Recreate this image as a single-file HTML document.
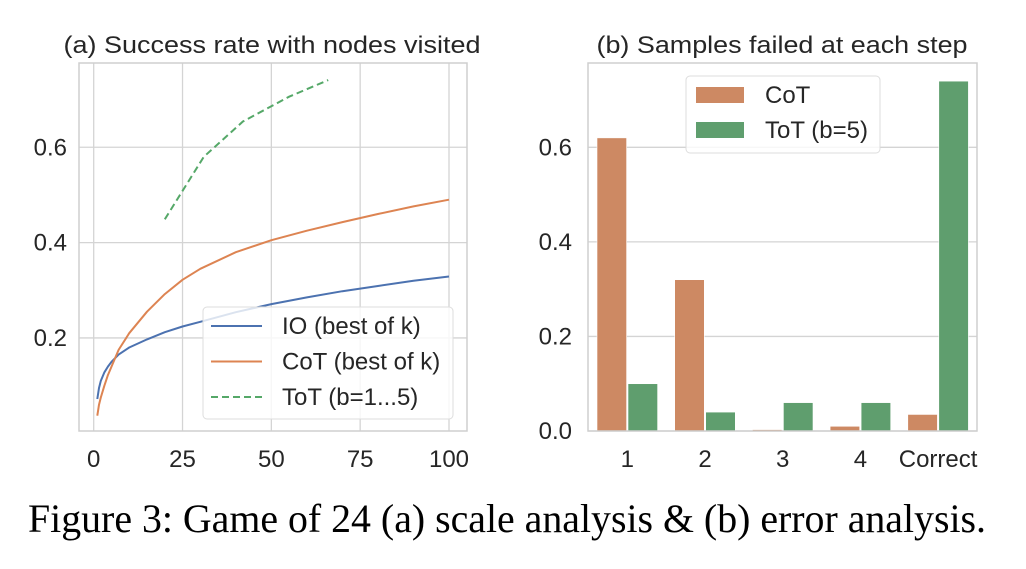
<!DOCTYPE html>
<html><head><meta charset="utf-8"><style>
body{margin:0;background:#fff;width:1026px;height:564px;overflow:hidden}
svg text{font-family:"Liberation Sans",sans-serif;fill:#262626}
</style></head><body>
<svg width="1026" height="564" xmlns="http://www.w3.org/2000/svg">
<g id="left"></g>
<g id="right"></g>
<text x="507" y="532" text-anchor="middle" textLength="958" lengthAdjust="spacingAndGlyphs" style="font-family:'Liberation Serif',serif;font-size:40px;fill:#000">Figure 3: Game of 24 (a) scale analysis &amp; (b) error analysis.</text>
</svg>
<script>
const ioK=[1,1.5,2,3,4,5,7,10,15,20,25,30,40,50,60,70,80,90,100];
const ioVals=[0.072,0.095,0.11,0.128,0.14,0.15,0.165,0.18,0.197,0.212,0.224,0.234,0.254,0.271,0.285,0.298,0.309,0.32,0.329];
const cotK=[1,1.5,2,3,4,5,7,10,15,20,25,30,40,50,60,70,80,90,100];
const cotVals=[0.037,0.06,0.075,0.1,0.122,0.14,0.175,0.21,0.255,0.292,0.322,0.345,0.38,0.405,0.425,0.443,0.46,0.476,0.49];
const totK=[20,31,42,55,66];
const totVals=[0.449,0.58,0.654,0.706,0.741];
const xTicks=[0,25,50,75,100];
const yTicksL=[0.2,0.4,0.6];
const barCats=["1","2","3","4","Correct"];
const barCot=[0.62,0.32,0.003,0.01,0.035];
const barTot=[0.1,0.04,0.06,0.06,0.74];
const yTicksR=[0.0,0.2,0.4,0.6];

const NS="http://www.w3.org/2000/svg";
const FS=24;
function mk(parent,tag,attrs,text){const e=document.createElementNS(NS,tag);for(const k in attrs)e.setAttribute(k,attrs[k]);if(text!==undefined)e.textContent=text;parent.appendChild(e);return e;}

// Left chart
const L=document.getElementById('left');
const lx=v=>93.7+v*3.553;
const ly=v=>433.3-v*476.7;
const lL=79,lR=467,lT=63,lB=431;
mk(L,'rect',{x:lL,y:lT,width:lR-lL,height:lB-lT,fill:'#fff'});
xTicks.forEach(t=>{
  const g=mk(L,'line',{x1:lx(t),x2:lx(t),y1:lT,y2:lB,stroke:'#d4d4d4','stroke-width':1.3});
  
  const tx=mk(L,'text',{x:lx(t),y:467,'text-anchor':'middle','font-size':FS},String(t));
  
});
yTicksL.forEach(t=>{
  const g=mk(L,'line',{x1:lL,x2:lR,y1:ly(t),y2:ly(t),stroke:'#d4d4d4','stroke-width':1.3});
  
  const tx=mk(L,'text',{x:67,y:ly(t)+8,'text-anchor':'end','font-size':FS},t.toFixed(1));
  
});
const lf=mk(L,'rect',{x:lL,y:lT,width:lR-lL,height:lB-lT,fill:'none',stroke:'#cfcfcf','stroke-width':1.5});

function path(ks,vs){return ks.map((k,i)=>(i?'L':'M')+lx(k).toFixed(1)+','+ly(vs[i]).toFixed(1)).join(' ');}
const p1=mk(L,'path',{d:path(ioK,ioVals),fill:'none',stroke:'#4c72b0','stroke-width':2,'stroke-linejoin':'round'});

const p2=mk(L,'path',{d:path(cotK,cotVals),fill:'none',stroke:'#dd8452','stroke-width':2,'stroke-linejoin':'round'});

const p3=mk(L,'path',{d:path(totK,totVals),fill:'none',stroke:'#55a868','stroke-width':2,'stroke-dasharray':'7,4'});

const lt=mk(L,'text',{x:272,y:53,'text-anchor':'middle','font-size':FS,textLength:417,lengthAdjust:'spacingAndGlyphs'},'(a) Success rate with nodes visited');

const lg=mk(L,'g',{});

mk(lg,'rect',{x:203,y:307,width:250,height:112,rx:4,fill:'#fff','fill-opacity':0.8,stroke:'#ddd','stroke-width':1});
[['IO (best of k)','#4c72b0',''],['CoT (best of k)','#dd8452',''],['ToT (b=1...5)','#55a868','7,4']].forEach((e,i)=>{
  const y=326+i*35.5;
  mk(lg,'line',{x1:211,x2:262,y1:y,y2:y,stroke:e[1],'stroke-width':2,'stroke-dasharray':e[2]||'none'});
  const t=mk(lg,'text',{x:282,y:y+8,'font-size':FS},e[0]);
  
});

// Right chart
const R=document.getElementById('right');
const rL=588,rRt=977,rT=63,rB=431;
const ry=v=>431-v*472.8;
const cx=i=>627.3+i*77.7;
mk(R,'rect',{x:rL,y:rT,width:rRt-rL,height:rB-rT,fill:'#fff'});
yTicksR.forEach(t=>{
  const g=mk(R,'line',{x1:rL,x2:rRt,y1:ry(t),y2:ry(t),stroke:'#d4d4d4','stroke-width':1.3});
  
  const tx=mk(R,'text',{x:572,y:ry(t)+8,'text-anchor':'end','font-size':FS},t.toFixed(1));
  
});
barCats.forEach((c,i)=>{
  const b1=mk(R,'rect',{x:cx(i)-30.3,y:ry(barCot[i]),width:29.6,height:ry(0)-ry(barCot[i]),fill:'#cd8963',stroke:'#fff','stroke-width':0.6});
  
  const b2=mk(R,'rect',{x:cx(i)+0.7,y:ry(barTot[i]),width:29.6,height:ry(0)-ry(barTot[i]),fill:'#5f9e6e',stroke:'#fff','stroke-width':0.6});
  
  const tx=mk(R,'text',{x:cx(i),y:467,'text-anchor':'middle','font-size':FS},c);
  
});
const rf=mk(R,'rect',{x:rL,y:rT,width:rRt-rL,height:rB-rT,fill:'none',stroke:'#cfcfcf','stroke-width':1.5});

const rt=mk(R,'text',{x:782,y:53,'text-anchor':'middle','font-size':FS,textLength:371,lengthAdjust:'spacingAndGlyphs'},'(b) Samples failed at each step');

const rg=mk(R,'g',{});

mk(rg,'rect',{x:686,y:76,width:194,height:77,rx:4,fill:'#fff','fill-opacity':0.8,stroke:'#ddd','stroke-width':1});
[['CoT','#cd8963'],['ToT (b=5)','#5f9e6e']].forEach((e,i)=>{
  const y=95+i*35;
  mk(rg,'rect',{x:696,y:y-8,width:48,height:16,fill:e[1]});
  const t=mk(rg,'text',{x:765,y:y+8,'font-size':FS},e[0]);
  
});
</script>
</body></html>
